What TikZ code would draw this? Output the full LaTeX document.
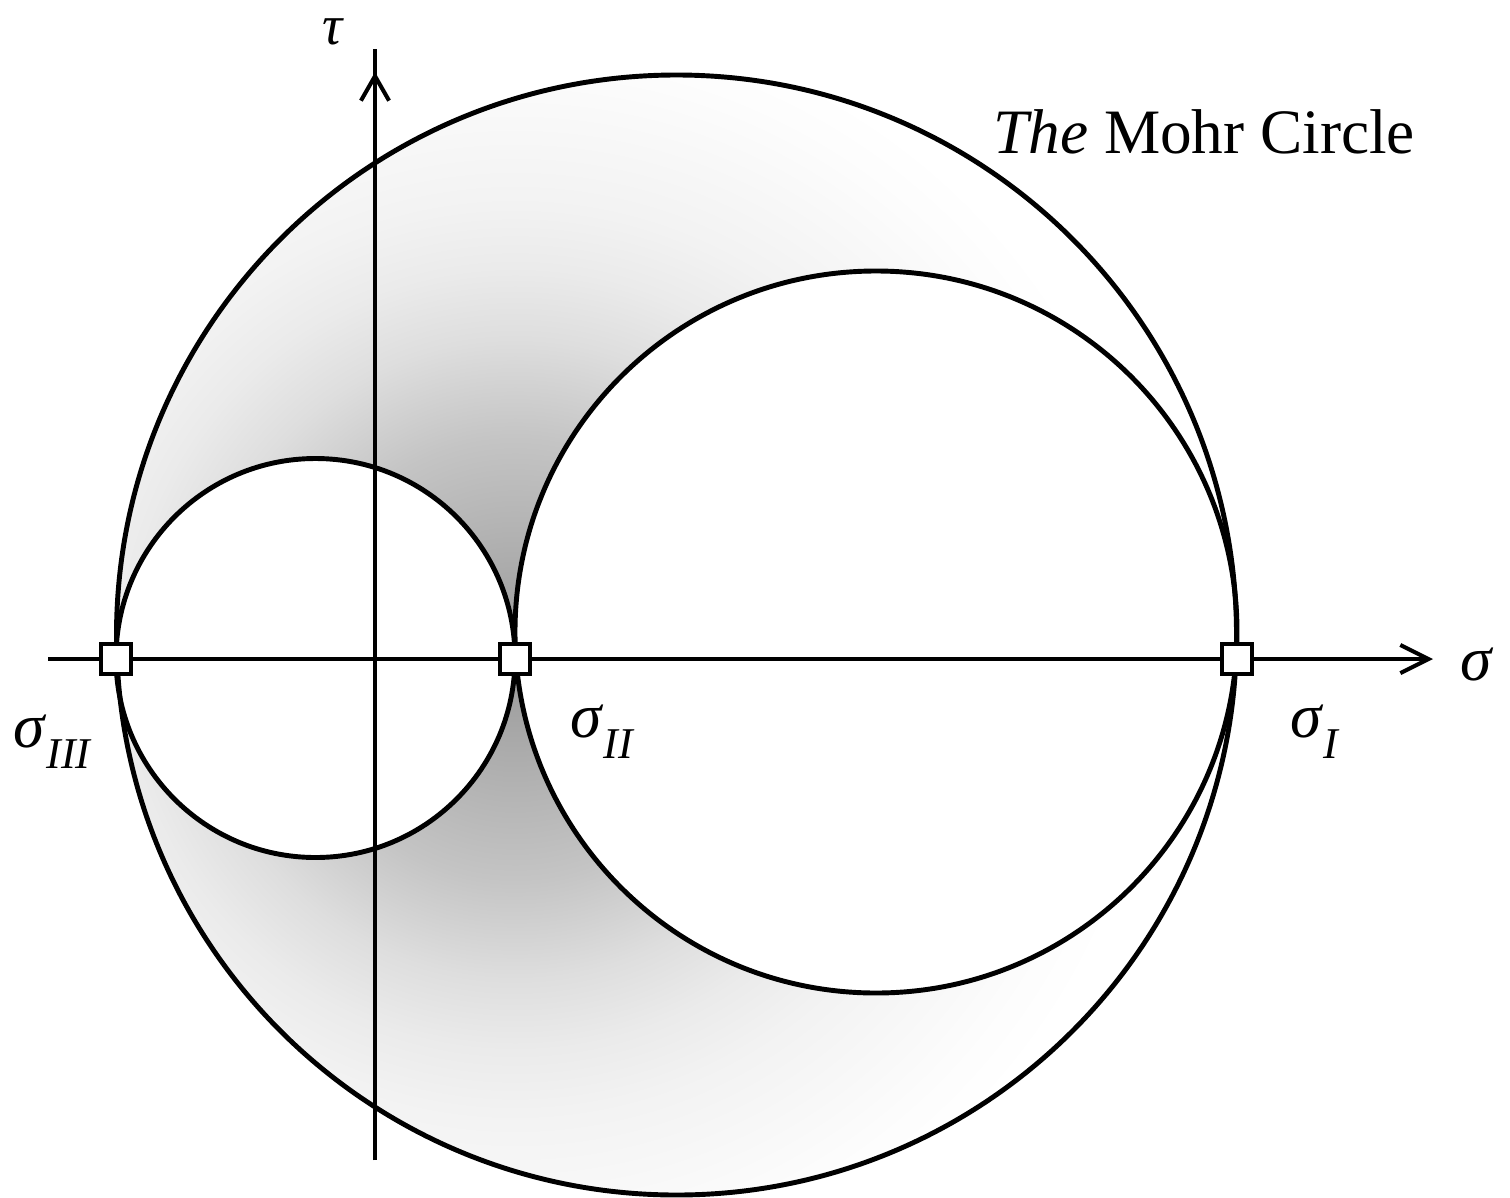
\documentclass[tikz,border=0pt]{standalone}
\usepackage{fontspec}
\setmainfont{Liberation Serif}
\usetikzlibrary{arrows.meta}
\colorlet{shA}{black!40}
\colorlet{shB}{black!29}
\colorlet{shC}{black!23}
\colorlet{shD}{black!13}
\colorlet{shE}{black!8}
\colorlet{shF}{black!5}
\colorlet{shG}{black!1}
\pgfdeclareradialshading{mohrshade}{\pgfpoint{0bp}{0bp}}{color(0bp)=(shA); color(5.4bp)=(shB); color(8.5bp)=(shC); color(12.3bp)=(shD); color(15bp)=(shE); color(17.5bp)=(shF); color(23bp)=(shG); color(25bp)=(white); color(50bp)=(white)}
\newcommand{\sig}[1]{\textit{σ}\raisebox{-0.34em}{\fontsize{25}{25}\selectfont\itshape #1}}
\begin{document}
\begin{tikzpicture}[x=0.02cm,y=-0.02cm,
  circ/.style={line width=2.8pt},
  axis/.style={line width=2.3pt},
  sq/.style={draw,fill=white,line width=2.3pt,minimum size=17pt,inner sep=0pt,outer sep=0pt},
  lbl/.style={inner sep=0pt,font=\fontsize{36}{36}\selectfont}]
\useasboundingbox (0,0) rectangle (1510,1197);
\coordinate (cB) at (676.5,635);
\coordinate (cM) at (876,632);
\coordinate (cS) at (315.5,658);
\coordinate (sh) at (515,659);
\coordinate (xl) at (48,659);
\coordinate (xr) at (1433,659);
\coordinate (yb) at (375,1160);
\coordinate (yt) at (375,49);
\coordinate (ya) at (375,72);
% shading
\begin{scope}
  \clip (cB) circle (560);
  \shade[shading=mohrshade] (sh) circle (650);
\end{scope}
\fill[white] (cS) circle (199.5);
\fill[white] (cM) circle (361);
% circles
\draw[circ] (cB) circle (560);
\draw[circ] (cM) circle (361);
\draw[circ] (cS) circle (199.5);
% axes
\draw[axis,-{Straight Barb[length=16pt,width=16pt,line width=2.3pt]}] (xl) -- (xr);
\draw[axis] (yb) -- (yt);
\draw[axis,-{Straight Barb[length=14pt,width=16pt,line width=2.3pt]}] (yb) -- (ya);
% points
\node[sq] (s3) at (116,659) {};
\node[sq] (s2) at (515,659) {};
\node[sq] (s1) at (1237,659) {};
% labels
\node[lbl,anchor=base west] (l3) at (13,747) {\sig{III}};
\node[lbl,anchor=base west] (l2) at (570,737) {\sig{II}};
\node[lbl,anchor=base west] (l1) at (1290,737) {\sig{I}};
\node[lbl,anchor=base west] (ls) at (1460,680) {\textit{σ}};
\node[lbl,anchor=base west,font=\fontsize{32}{32}\selectfont] (lt) at (322,44) {\textit{τ}};
\node[lbl,anchor=base west] (title) at (993,153) {\textit{The} Mohr Circle};
\end{tikzpicture}
\end{document}
